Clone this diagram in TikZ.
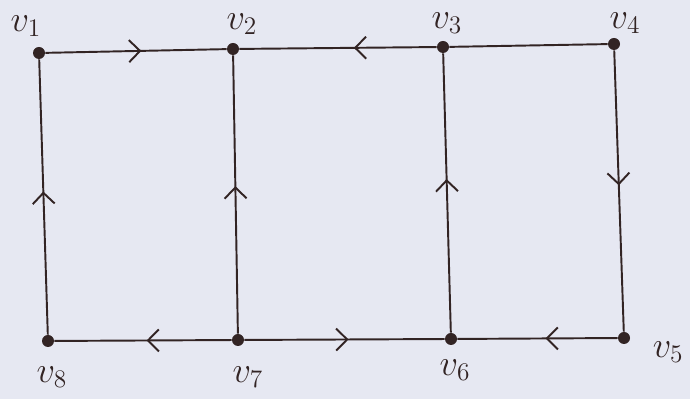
\documentclass[tikz,border=0pt]{standalone}
\usepackage{amsmath,amssymb}
\usepackage{tikz}
\usetikzlibrary{arrows.meta,positioning,calc,decorations.markings,backgrounds}
\usepackage{xcolor}

\definecolor{paper}{RGB}{230,232,242}
\definecolor{ink}{RGB}{50,36,36}

\tikzset{
  vtx/.style={circle, fill=ink, inner sep=0pt, minimum size=0.24cm},
  vlab/.style={font=\huge, text=ink, inner sep=1pt},
  edge/.style={draw=ink, line width=1.1pt},
  midarrow/.style={postaction={decorate}, decoration={markings,
      mark=at position #1 with {\arrow{Straight Barb[length=2.2mm,width=4.4mm,line width=1.1pt]}}}},
  midarrow/.default=0.5
}

\begin{document}
\begin{tikzpicture}
  \fill[paper] (0,0) rectangle (13.8,7.98);
  \useasboundingbox (0,0) rectangle (13.8,7.98);

  % vertices
  \node[vtx] (v1) at (0.78,6.92) {};
  \node[vtx] (v2) at (4.66,7.00) {};
  \node[vtx] (v3) at (8.86,7.04) {};
  \node[vtx] (v4) at (12.28,7.10) {};
  \node[vtx] (v5) at (12.48,1.22) {};
  \node[vtx] (v6) at (9.02,1.20) {};
  \node[vtx] (v7) at (4.76,1.18) {};
  \node[vtx] (v8) at (0.96,1.16) {};

  % labels
  \node[vlab] (l1) at (0.52,7.46) {$v_1$};
  \node[vlab] (l2) at (4.84,7.50) {$v_2$};
  \node[vlab] (l3) at (8.94,7.52) {$v_3$};
  \node[vlab] (l4) at (12.50,7.52) {$v_4$};
  \node[vlab] (l5) at (13.36,0.94) {$v_5$};
  \node[vlab] (l6) at (9.10,0.58) {$v_6$};
  \node[vlab] (l7) at (4.96,0.44) {$v_7$};
  \node[vlab] (l8) at (1.04,0.44) {$v_8$};

  % edges
  \draw[edge, midarrow=0.53] (v1) -- (v2);
  \draw[edge, midarrow=0.42] (v3) -- (v2);
  \draw[edge] (v3) -- (v4);
  \draw[edge, midarrow=0.48] (v4) -- (v5);
  \draw[edge, midarrow=0.45] (v5) -- (v6);
  \draw[edge, midarrow=0.52] (v7) -- (v6);
  \draw[edge, midarrow=0.48] (v7) -- (v8);
  \draw[edge, midarrow=0.52] (v8) -- (v1);
  \draw[edge, midarrow=0.53] (v7) -- (v2);
  \draw[edge, midarrow=0.55] (v6) -- (v3);
\end{tikzpicture}
\end{document}
